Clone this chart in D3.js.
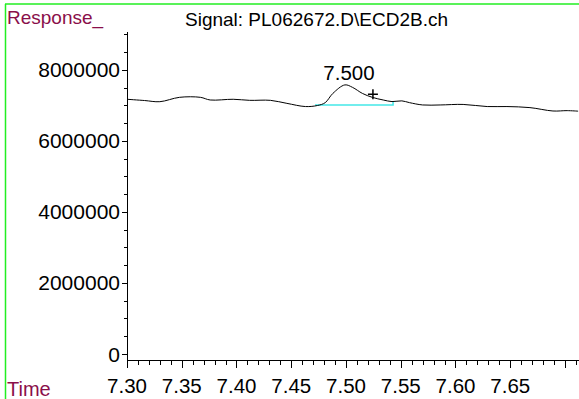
<!DOCTYPE html>
<html><head><meta charset="utf-8">
<script src="https://cdn.jsdelivr.net/npm/d3@7"></script>
<style>body{margin:0;background:#fff}svg{display:block;font-family:"Liberation Sans",Arial,sans-serif}</style>
</head><body><svg id="c" width="579" height="399"></svg>
<script>
const title = "Signal: PL062672.D\\ECD2B.ch";
const yTicks = [0, 2000000, 4000000, 6000000, 8000000];
const xTicks = [7.30, 7.35, 7.40, 7.45, 7.50, 7.55, 7.60, 7.65, 7.70];
const times = [7.300,7.316,7.330,7.348,7.367,7.376,7.397,7.412,7.431,7.446,7.463,7.474,7.481,7.488,7.499,7.506,7.515,7.524,7.534,7.542,7.551,7.558,7.570,7.586,7.607,7.629,7.647,7.668,7.689,7.702,7.712];
const values = [7175000,7140000,7107000,7230000,7230000,7155000,7175000,7145000,7145000,7060000,6970000,7000000,7080000,7340000,7580000,7510000,7340000,7230000,7155000,7110000,7130000,7080000,7015000,7015000,7030000,6970000,6970000,6940000,6845000,6855000,6840000];
const peakLabel = "7.500";
const peakTime = 7.500, peakValue = 7580000;
const baseStart = [7.4717, 7014000], baseEnd = [7.543, 7014000], baseEndTop = 7107000;
const marker = [7.5246, 7320000];

const svg = d3.select("#c");
const x = d3.scaleLinear().domain([7.30, 7.7128]).range([127, 579]);
const y = d3.scaleLinear().domain([-169000, 9070000]).range([360, 32]);
const maroon = "#8a0f4a";

// green frame
svg.append("line").attr("x1",5).attr("x2",579).attr("y1",4).attr("y2",4).attr("stroke","#22ee22").attr("stroke-width",1.5);
svg.append("line").attr("x1",5.5).attr("x2",5.5).attr("y1",4).attr("y2",399).attr("stroke","#22ee22").attr("stroke-width",1.5);

svg.append("text").attr("x",7).attr("y",24).attr("fill",maroon).attr("font-size",19).text("Response_");
svg.append("text").attr("x",185).attr("y",26).attr("fill","#000").attr("font-size",19).text(title);
svg.append("text").attr("x",7).attr("y",396).attr("fill",maroon).attr("font-size",20).text("Time");

// axes lines
svg.append("line").attr("x1",127.5).attr("x2",127.5).attr("y1",32).attr("y2",361).attr("stroke","#000");
svg.append("line").attr("x1",127).attr("x2",579).attr("y1",360.5).attr("y2",360.5).attr("stroke","#000");

// y ticks
const yMinor = d3.range(0, 9000001, 500000);
svg.selectAll(".ym").data(yMinor).enter().append("line")
  .attr("x1", d => yTicks.includes(d) ? 122 : 124).attr("x2",127)
  .attr("y1", d => Math.round(y(d))+0.5).attr("y2", d => Math.round(y(d))+0.5).attr("stroke","#000");
svg.selectAll(".yl").data(yTicks).enter().append("text")
  .attr("x",120).attr("y", d => y(d)+7.5).attr("text-anchor","end").attr("font-size",21).text(d => d);

// x ticks
const xMinor = d3.range(0, 42).map(i => 7.30 + i*0.01);
svg.selectAll(".xm").data(xMinor).enter().append("line")
  .attr("x1", d => Math.round(x(d))+0.5).attr("x2", d => Math.round(x(d))+0.5)
  .attr("y1",360).attr("y2",(d,i) => i%5===0 ? 368 : 365).attr("stroke","#000");
svg.selectAll(".xl").data(xTicks.slice(0,8)).enter().append("text")
  .attr("x", d => x(d)).attr("y",393).attr("text-anchor","middle").attr("font-size",20.5).text(d => d.toFixed(2));

// baseline
svg.append("path").attr("fill","none").attr("stroke","#44e8e8").attr("stroke-width",1.5)
  .attr("d", d3.line()([[x(baseStart[0]),y(baseStart[1])],[x(baseEnd[0]),y(baseEnd[1])],[x(baseEnd[0]),y(baseEndTop)]]));

// signal
svg.append("path").datum(times.map((t,i)=>[t,values[i]])).attr("fill","none").attr("stroke","#000").attr("stroke-width",1)
  .attr("d", d3.line().x(d=>x(d[0])).y(d=>y(d[1])).curve(d3.curveCatmullRom));

// marker
const mx = x(marker[0]), my = y(marker[1]);
svg.append("path").attr("stroke","#000").attr("stroke-width",1.5).attr("d",`M${mx-5},${my}H${mx+5}M${mx},${my-5}V${my+5}`);

svg.append("text").attr("x", x(peakTime)+3).attr("y",80).attr("text-anchor","middle").attr("font-size",20.5).text(peakLabel);
</script></body></html>
